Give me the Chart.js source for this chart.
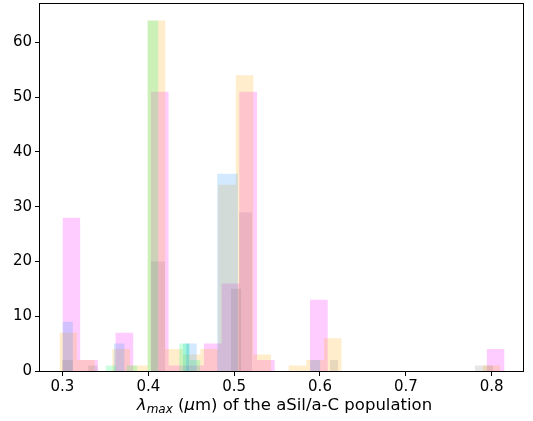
<!DOCTYPE html>
<html>
<head>
<meta charset="utf-8">
<script src="https://cdn.jsdelivr.net/npm/chart.js@4"></script>
<style>
  html, body { margin: 0; padding: 0; background: #fff; }
  #wrap { position: relative; width: 533px; height: 421px; }
  #xlabel { position: absolute; left: 43px; width: 483px; top: 395px; text-align: center;
            font-family: "DejaVu Sans", sans-serif; font-size: 16.5px; line-height: 20px; color: #000; white-space: nowrap; }
  #xlabel sub { font-size: 12px; vertical-align: -3px; line-height: 0; }
</style>
</head>
<body>
<div id="wrap">
  <canvas id="c" width="533" height="421"></canvas>
  <div id="xlabel"><i>λ</i><sub><i>max</i></sub> (<i>μ</i>m) of the aSil/a-C population</div>
</div>
<script>
// ---- data (bin edges and counts per population) ----
const magentaEdges = [0.3000,0.3206,0.3412,0.3618,0.3824,0.4030,0.4236,0.4442,0.4648,0.4854,0.5060,0.5266,0.5472,0.5678,0.5884,0.6090,0.6296,0.6502,0.6708,0.6914,0.7120,0.7326,0.7532,0.7738,0.7944,0.8150];
const magentaCounts = [28,2,0,7,0,51,1,1,5,16,51,2,0,0,13,0,0,0,0,0,0,0,0,0,4];

const orangeEdges = [0.2965,0.3170,0.3376,0.3581,0.3787,0.3992,0.4197,0.4403,0.4608,0.4814,0.5019,0.5224,0.5430,0.5635,0.5841,0.6046,0.6251,0.6457,0.6662,0.6868,0.7073,0.7278,0.7484,0.7689,0.7895,0.8100];
const orangeCounts = [7,2,0,4,1,64,4,3,4,34,54,3,0,1,2,6,0,0,0,0,0,0,0,0,1];

const greenEdges = [0.3502,0.3625,0.3747,0.3870,0.3992,0.4115,0.4237,0.4360,0.4482,0.4605,0.4727,0.4850,0.4972,0.5095,0.5217,0.5340,0.5462,0.5585,0.5707,0.5830,0.5952,0.6075,0.6197,0.6320,0.6442,0.6565];
const greenCounts = [1,0,1,0,64,0,0,5,2,0,0,0,0,0,0,0,0,0,0,0,0,0,0,0,0];

const blueEdges = [0.3000,0.3120,0.3240,0.3361,0.3481,0.3601,0.3721,0.3841,0.3962,0.4082,0.4202,0.4322,0.4442,0.4563,0.4683,0.4803,0.4923,0.5043,0.5164,0.5284,0.5404,0.5524,0.5644,0.5765,0.5885,0.6005];
const blueCounts = [9,0,0,0,0,5,0,0,0,0,0,0,5,0,0,36,36,0,0,0,0,0,0,0,2];

const cyanEdges = [0.4404,0.4474];
const cyanCounts = [5];

const grayEdges = [0.2994,0.3122,0.3300,0.3410,0.4963,0.5080,0.6116,0.6209,0.7805,0.8015];
const grayCounts = [2,0,1,0,15,0,2,0,1];

const slateEdges = [0.4031,0.4195,0.5056,0.5208];
const slateCounts = [20,0,29];

const xTicks = [0.3,0.4,0.5,0.6,0.7,0.8];
const yTicks = [0,10,20,30,40,50,60];

// ---- build step histograms (each bin's count held from its left edge to the next edge) ----
function hist(edges, counts) {
  const pts = counts.map((c, i) => ({x: edges[i], y: c}));
  pts.push({x: edges[edges.length - 1], y: 0});
  return pts;
}
function ds(label, edges, counts, color) {
  return {
    label, data: hist(edges, counts), stepped: 'before', fill: 'origin',
    backgroundColor: color, borderColor: 'rgba(0,0,0,0)', borderWidth: 0,
    pointRadius: 0, pointHoverRadius: 0, tension: 0
  };
}

const frame = {
  id: 'frame',
  afterDatasetsDraw(chart) {
    const a = chart.chartArea, ctx = chart.ctx;
    ctx.save();
    ctx.strokeStyle = '#000'; ctx.lineWidth = 1;
    ctx.strokeRect(a.left - 0.5, a.top + 0.5, a.right - a.left + 1, a.bottom - a.top);
    ctx.restore();
  }
};

const font = {family: '"DejaVu Sans", sans-serif', size: 15};

new Chart(document.getElementById('c'), {
  type: 'line',
  data: { datasets: [
    ds('gray', grayEdges, grayCounts, 'rgba(110,105,100,0.17)'),
    ds('blue', blueEdges, blueCounts, 'rgba(30,144,255,0.2)'),
    ds('green', greenEdges, greenCounts, 'rgba(0,255,100,0.2)'),
    ds('cyan', cyanEdges, cyanCounts, 'rgba(0,200,200,0.22)'),
    ds('orange', orangeEdges, orangeCounts, 'rgba(255,165,0,0.2)'),
    ds('magenta', magentaEdges, magentaCounts, 'rgba(255,0,255,0.2)'),
    ds('slate', slateEdges, slateCounts, 'rgba(90,100,160,0.17)')
  ]},
  options: {
    responsive: false, animation: false, devicePixelRatio: 1,
    layout: { padding: {top: 3, right: 10, left: 0, bottom: 0} },
    plugins: { legend: {display: false}, tooltip: {enabled: false} },
    scales: {
      x: {
        type: 'linear', min: 0.2738, max: 0.8365,
        afterBuildTicks: s => { s.ticks = xTicks.map(v => ({value: v})); },
        afterFit: s => { s.height = 50; s.paddingLeft = 0; s.paddingRight = 0; },
        ticks: { font, color: '#000', padding: 2, maxRotation: 0, callback: v => v.toFixed(1) },
        grid: { drawOnChartArea: false, drawTicks: true, tickLength: 5, color: '#000' },
        border: { display: false }
      },
      y: {
        min: 0, max: 67.2,
        afterBuildTicks: s => { s.ticks = yTicks.map(v => ({value: v})); },
        afterFit: s => { s.width = 40; s.paddingTop = 0; s.paddingBottom = 0; },
        ticks: { font, color: '#000', padding: 3, callback: v => String(v) },
        grid: { drawOnChartArea: false, drawTicks: true, tickLength: 5, color: '#000' },
        border: { display: false }
      }
    }
  },
  plugins: [frame]
});
</script>
</body>
</html>
